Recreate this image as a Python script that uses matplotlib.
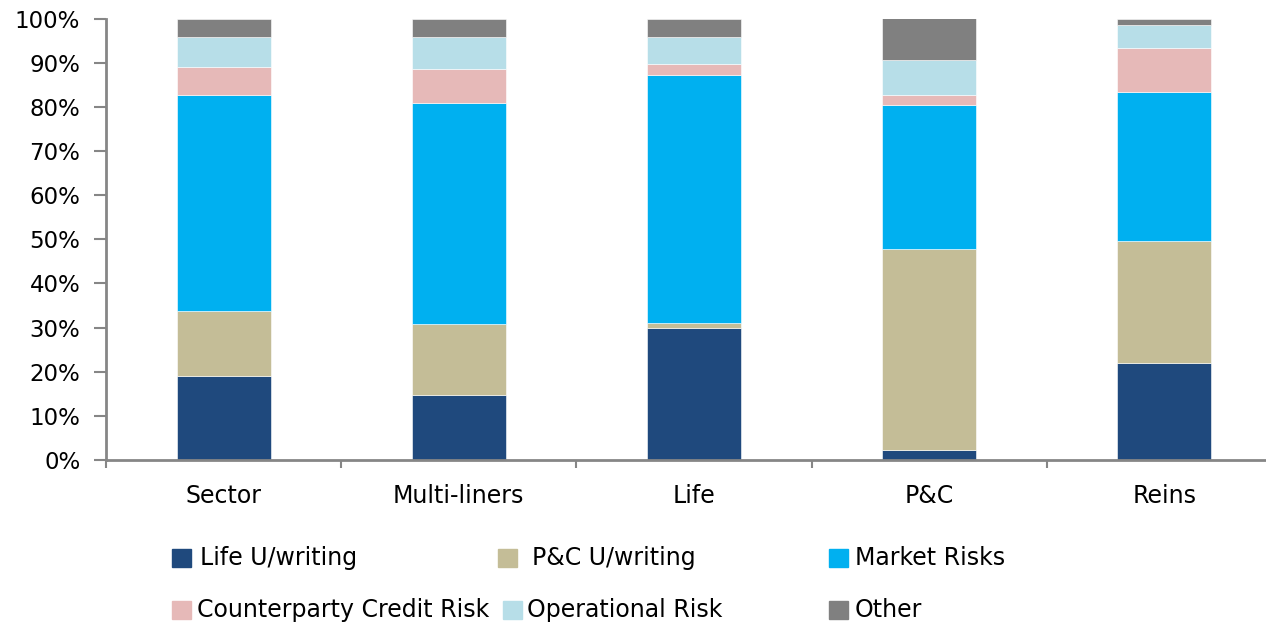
import matplotlib
matplotlib.use("Agg")
import matplotlib.pyplot as plt
from matplotlib.patches import Rectangle
import numpy as np

categories = ["Sector", "Multi-liners", "Life", "P&C", "Reins"]
series_names = ["Life U/writing", "P&C U/writing", "Market Risks",
                "Counterparty Credit Risk", "Operational Risk", "Other"]
life_uw = [19.1, 14.7, 30.0, 2.3, 22.0]
pc_uw = [14.7, 16.1, 1.1, 45.6, 27.7]
market = [48.9, 50.0, 56.2, 32.6, 33.7]
ccr = [6.3, 7.7, 2.3, 2.2, 10.0]
oper = [6.8, 7.2, 6.1, 7.9, 5.2]
other = [4.2, 4.3, 4.3, 9.4, 1.4]
colors = ["#1F497D", "#C4BD97", "#00B0F0", "#E6B9B8", "#B7DEE8", "#808080"]

data = [life_uw, pc_uw, market, ccr, oper, other]

plt.rcParams['font.family'] = ['DejaVu Sans']
W, H = 1266, 624
fig = plt.figure(figsize=(W / 100, H / 100), dpi=100)
ax = fig.add_axes([106 / W, 164 / H, 1176 / W, 441.5 / H])

x = np.arange(len(categories))
bottom = np.zeros(len(categories))
for vals, col, name in zip(data, colors, series_names):
    ax.bar(x, vals, 0.4, bottom=bottom, color=col, label=name,
           edgecolor='white', linewidth=0.4)
    bottom += np.array(vals)

ax.set_xlim(-0.5, 4.5)
ax.set_ylim(0, 100)
ax.set_yticks(np.arange(0, 101, 10))
ax.set_yticklabels([f"{v}%" for v in range(0, 101, 10)], fontsize=16.5)
ax.set_xticks(x)
ax.set_xticklabels(categories, fontsize=17)
ax.set_xticks(np.arange(-0.5, 4.6, 1), minor=True)
ax.tick_params(axis='x', which='major', length=0, pad=17)
ax.tick_params(axis='x', which='minor', length=6, width=1.5, color='#868686', direction='out')
ax.tick_params(axis='y', which='major', length=8.5, width=1.5, color='#868686', pad=10)
for s in ['top', 'right']:
    ax.spines[s].set_visible(False)
for s in ['left', 'bottom']:
    ax.spines[s].set_color('#868686')
    ax.spines[s].set_linewidth(2)

# manual legend matching the reference layout
legend_pos = [(172, 558), (498, 558), (829, 558), (172, 610), (503, 610), (829, 610)]
text_x = [200, 532, 855, 197, 527, 855]
for (mx, my), tx, name, col in zip(legend_pos, text_x, series_names, colors):
    fig.add_artist(Rectangle((mx / W, (H - my - 9) / H), 19 / W, 18 / H,
                             transform=fig.transFigure, color=col))
    fig.text(tx / W, (H - my) / H, name, fontsize=17, va='center', ha='left')

fig.savefig("out.png", dpi=100)
